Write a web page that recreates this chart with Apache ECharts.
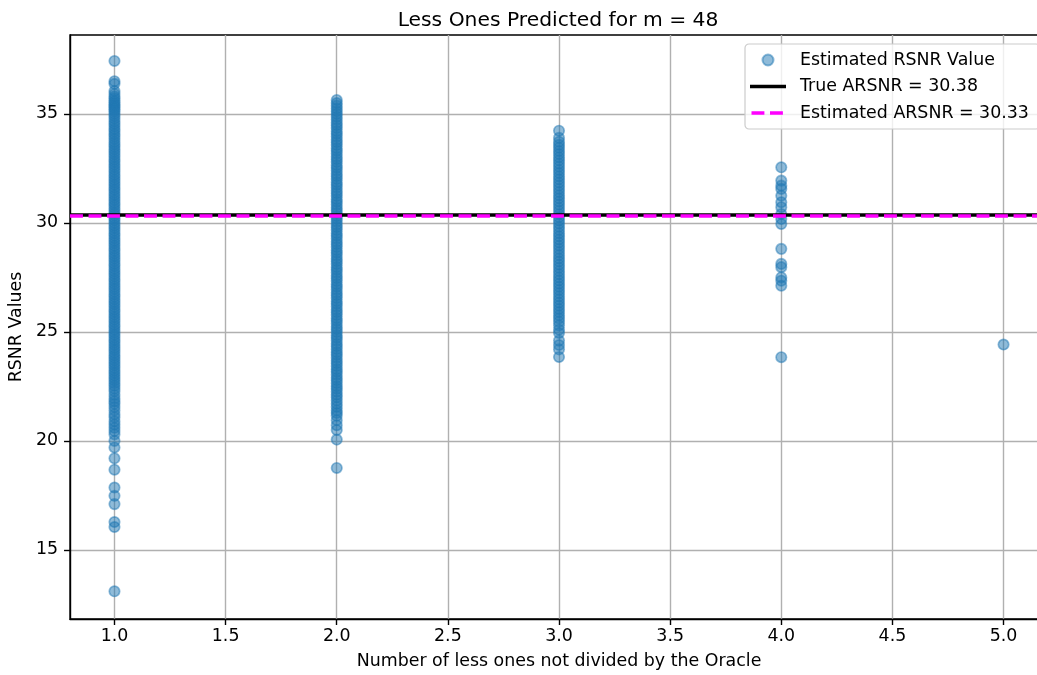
<!DOCTYPE html>
<html>
<head>
<meta charset="utf-8">
<script src="https://cdn.jsdelivr.net/npm/echarts@6/dist/echarts.min.js"></script>
<style>
html,body{margin:0;padding:0;background:#fff;overflow:hidden;width:1037px;height:675px;}
#chart{width:1048px;height:675px;}
</style>
</head>
<body>
<div id="chart"></div>
<script>
// ---- data ----
const chartTitle = 'Less Ones Predicted for m = 48';
const xName = 'Number of less ones not divided by the Oracle';
const yName = 'RSNR Values';
const xTicks = [1.0, 1.5, 2.0, 2.5, 3.0, 3.5, 4.0, 4.5, 5.0];
const yTicks = [15, 20, 25, 30, 35];
const xRange = [0.8, 5.2];
const yRange = [11.83, 38.62];
const trueARSNR = 30.38;
const estARSNR = 30.33;

const rsnr1 = [37.43, 36.5, 36.38, 36.05, 35.92, 35.8, 35.71, 35.6, 35.52, 35.43, 35.36, 35.28, 35.2,
  35.12, 35.01, 34.9, 34.79, 34.66, 34.55, 34.43, 34.31, 34.2, 34.08, 33.97, 33.85, 33.72, 33.61, 33.5,
  33.38, 33.27, 33.15, 33.03, 32.91, 32.8, 32.68, 32.57, 32.45, 32.33, 32.21, 32.1, 31.98, 31.86, 31.75,
  31.63, 31.52, 31.4, 31.28, 31.17, 31.05, 30.93, 30.82, 30.7, 30.58, 30.46, 30.35, 30.23, 30.12, 30.0,
  29.88, 29.77, 29.65, 29.53, 29.42, 29.3, 29.18, 29.07, 28.95, 28.83, 28.72, 28.6, 28.48, 28.37, 28.25,
  28.13, 28.02, 27.9, 27.78, 27.67, 27.55, 27.43, 27.32, 27.2, 27.08, 26.97, 26.85, 26.73, 26.62, 26.5,
  26.38, 26.27, 26.15, 26.03, 25.92, 25.8, 25.68, 25.57, 25.45, 25.33, 25.22, 25.1, 24.98, 24.87, 24.75,
  24.63, 24.52, 24.4, 24.28, 24.17, 24.05, 23.93, 23.82, 23.7, 23.58, 23.47, 23.35, 23.23, 23.12, 23.0,
  22.88, 22.77, 22.65, 22.53, 22.4, 22.28, 22.1, 21.95, 21.82, 21.7, 21.55, 21.4, 21.22, 21.08, 20.9,
  20.75, 20.6, 20.45, 20.3, 20.0, 19.7, 19.2, 18.68, 17.86, 17.48, 17.1, 16.28, 16.05, 13.1];
const rsnr2 = [35.64, 35.5, 35.38, 35.25, 35.12, 35.0, 34.87, 34.74, 34.6, 34.48, 34.35, 34.21, 34.09,
  33.96, 33.82, 33.7, 33.57, 33.43, 33.31, 33.18, 33.04, 32.92, 32.79, 32.65, 32.53, 32.4, 32.26, 32.14,
  32.01, 31.87, 31.75, 31.62, 31.48, 31.36, 31.23, 31.09, 30.97, 30.84, 30.7, 30.58, 30.45, 30.31, 30.19,
  30.06, 29.92, 29.8, 29.67, 29.53, 29.41, 29.28, 29.14, 29.02, 28.89, 28.75, 28.63, 28.5, 28.36, 28.24,
  28.11, 27.97, 27.85, 27.72, 27.58, 27.46, 27.33, 27.19, 27.07, 26.94, 26.8, 26.68, 26.55, 26.41, 26.29,
  26.16, 26.02, 25.9, 25.77, 25.63, 25.51, 25.38, 25.24, 25.12, 24.99, 24.85, 24.73, 24.6, 24.46, 24.34,
  24.21, 24.07, 23.95, 23.82, 23.68, 23.56, 23.43, 23.29, 23.17, 23.04, 22.9, 22.78, 22.65, 22.51, 22.39,
  22.26, 22.12, 22.0, 21.85, 21.7, 21.56, 21.4, 21.28, 21.15, 20.95, 20.72, 20.5, 20.06, 18.76];
const rsnr3 = [34.23, 33.9, 33.72, 33.58, 33.45, 33.3, 33.16, 33.01, 32.87, 32.72, 32.58, 32.43, 32.29,
  32.14, 32.0, 31.85, 31.71, 31.56, 31.42, 31.27, 31.13, 30.98, 30.84, 30.69, 30.55, 30.4, 30.26, 30.11,
  29.97, 29.82, 29.68, 29.53, 29.39, 29.24, 29.1, 28.95, 28.81, 28.66, 28.52, 28.37, 28.23, 28.08, 27.94,
  27.79, 27.65, 27.5, 27.36, 27.21, 27.07, 26.92, 26.78, 26.63, 26.49, 26.34, 26.2, 26.05, 25.91, 25.76,
  25.62, 25.47, 25.3, 25.1, 24.95, 24.6, 24.4, 24.2, 23.85];
const rsnr4 = [32.55, 31.94, 31.71, 31.56, 31.25, 30.95, 30.72, 30.41, 30.18, 29.95, 28.81, 28.12,
  27.97, 27.5, 27.35, 27.12, 23.84];
const rsnr5 = [24.42];

const groups = [[1, rsnr1], [2, rsnr2], [3, rsnr3], [4, rsnr4], [5, rsnr5]];
const points = [];
groups.forEach(([x, vals]) => vals.forEach(v => points.push([x, v])));

const FONT = 'DejaVu Sans';
const nameTrue = 'True ARSNR = ' + trueARSNR.toFixed(2);
const nameEst = 'Estimated ARSNR = ' + estARSNR.toFixed(2);
const chart = echarts.init(document.getElementById('chart'), null, {renderer: 'canvas'});
chart.setOption({
  animation: false,
  backgroundColor: '#fff',
  title: {
    text: chartTitle, left: 553, top: 6, textAlign: 'center',
    textStyle: {fontFamily: FONT, fontSize: 20.3, fontWeight: 'normal', color: '#000'}
  },
  legend: {
    orient: 'vertical', left: 745, top: 44,
    padding: [7, 11, 7, 5],
    itemWidth: 36, itemHeight: 11, itemGap: 8.5,
    backgroundColor: 'rgba(255,255,255,0.8)',
    borderColor: '#cccccc', borderWidth: 1.2, borderRadius: 4,
    textStyle: {fontFamily: FONT, fontSize: 17.4, color: '#000', lineHeight: 18, padding: [0, 0, 0, 9]},
    data: [
      {name: 'Estimated RSNR Value'},
      {name: nameTrue, icon: 'path://M0,0h36v3.5h-36z'},
      {name: nameEst, icon: 'path://M1.5,0h12.9v3.5h-12.9z M20,0h12.9v3.5h-12.9z M35.9,1.7h0.1v0.1h-0.1z M0,1.7h0.1v0.1h-0.1z'}
    ]
  },
  grid: {
    left: 70, top: 35, right: 0, bottom: 54.5,
    show: true, borderColor: '#000', borderWidth: 1.4, backgroundColor: 'transparent'
  },
  xAxis: {
    type: 'value', min: xRange[0], max: xRange[1],
    name: xName, nameLocation: 'middle', nameGap: 34,
    nameTextStyle: {fontFamily: FONT, fontSize: 17.4, color: '#000'},
    axisLine: {show: true, onZero: false, lineStyle: {color: '#000', width: 1.4}},
    axisTick: {show: true, customValues: xTicks, length: 6, lineStyle: {color: '#000', width: 1.4}},
    axisLabel: {customValues: xTicks, formatter: v => Number(v).toFixed(1), fontFamily: FONT, fontSize: 17.4, color: '#000', margin: 9},
    splitLine: {show: true, lineStyle: {color: '#b0b0b0', width: 1.4}}
  },
  yAxis: {
    type: 'value', min: yRange[0], max: yRange[1],
    name: yName, nameLocation: 'middle', nameGap: 32,
    nameTextStyle: {fontFamily: FONT, fontSize: 17.4, color: '#000'},
    axisLine: {show: true, onZero: false, lineStyle: {color: '#000', width: 1.4}},
    axisTick: {show: true, customValues: yTicks, length: 6, lineStyle: {color: '#000', width: 1.4}},
    axisLabel: {customValues: yTicks, fontFamily: FONT, fontSize: 17.4, color: '#000', margin: 12},
    splitLine: {show: true, lineStyle: {color: '#b0b0b0', width: 1.4}}
  },
  series: [
    {
      name: 'Estimated RSNR Value', type: 'scatter', data: points,
      symbol: 'circle', symbolSize: 10.4, z: 2,
      itemStyle: {color: 'rgba(31,119,180,0.5)', borderColor: 'rgba(31,119,180,0.5)', borderWidth: 1.7, opacity: 1}
    },
    {
      name: nameTrue, type: 'line', data: [], symbol: 'none', z: 3,
      lineStyle: {color: '#000', width: 3.5},
      itemStyle: {color: '#000'},
      markLine: {silent: true, symbol: ['none', 'none'], label: {show: false}, animation: false,
        lineStyle: {color: '#000', width: 3.5, type: 'solid'}, data: [{yAxis: trueARSNR}]}
    },
    {
      name: nameEst, type: 'line', data: [], symbol: 'none', z: 4,
      lineStyle: {color: '#ff00ff', width: 3.5},
      itemStyle: {color: '#ff00ff'},
      markLine: {silent: true, symbol: ['none', 'none'], label: {show: false}, animation: false,
        lineStyle: {color: '#ff00ff', width: 3.5, type: [12.9, 5.6]}, data: [{yAxis: estARSNR}]}
    }
  ]
});
</script>
</body>
</html>
